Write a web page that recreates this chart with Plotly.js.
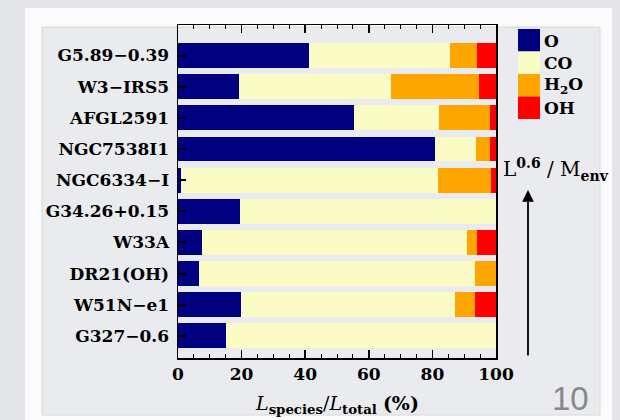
<!DOCTYPE html>
<html>
<head>
<meta charset="utf-8">
<script src="https://cdn.plot.ly/plotly-3.0.1.min.js"></script>
<style>html,body{margin:0;padding:0;background:#e3e5e9;}#chart{width:620px;height:420px;}</style>
</head>
<body>
<div id="chart"></div>
<script>
// ---- data ----
const sources = ["G5.89\u22120.39", "W3\u2212IRS5", "AFGL2591", "NGC7538I1", "NGC6334\u2212I",
                 "G34.26+0.15", "W33A", "DR21(OH)", "W51N\u2212e1", "G327\u22120.6"];
const species = ["O", "CO", "H<sub>2</sub>O", "OH"];
const valO   = [41.3, 19.1, 55.2, 80.8, 0.9, 19.4, 7.4, 6.6, 19.8, 15.0];
const valCO  = [44.2, 47.9, 26.9, 12.9, 80.9, 80.6, 83.5, 86.8, 67.3, 85.0];
const valH2O = [8.5, 27.6, 16.0, 4.4, 16.6, 0.0, 3.1, 6.6, 6.3, 0.0];
const valOH  = [6.0, 5.4, 1.9, 1.9, 1.6, 0.0, 6.0, 0.0, 6.6, 0.0];
const xTicks = [0, 20, 40, 60, 80, 100];

// ---- styles ----
const colors = ["#000080", "#fbfbc6", "#ffa500", "#ff0000"];
const serif = "DejaVu Serif, serif";
const W = 620, H = 420;
const M = {l: 178, r: 124, t: 25, b: 62};
const pw = W - M.l - M.r, ph = H - M.t - M.b;
const px = x => (x - M.l) / pw;
const py = y => (H - M.b - y) / ph;

const series = [valO, valCO, valH2O, valOH];
const traces = series.map((vals, i) => ({
  type: "bar", orientation: "h",
  y: sources, x: vals, name: species[i],
  marker: {color: colors[i], line: {width: 0}},
  showlegend: false, hoverinfo: "skip"
}));

const shapes = [
  {type: "rect", xref: "paper", yref: "paper", layer: "below",
   x0: px(25), x1: px(612), y0: py(421), y1: py(8), fillcolor: "#fbfbfb", line: {width: 0}},
  {type: "rect", xref: "paper", yref: "paper", layer: "below",
   x0: px(42), x1: px(600), y0: py(415), y1: py(27), fillcolor: "#e9ebee",
   line: {width: 1, color: "#d6d8dc"}}
];
const annotations = [];
// legend swatches
species.forEach((s, i) => {
  const top = 29 + i * 22.5;
  shapes.push({type: "rect", xref: "paper", yref: "paper",
    x0: px(518), x1: px(540), y0: py(top + 22.5), y1: py(top),
    fillcolor: colors[i], line: {width: 0}});
  annotations.push({xref: "paper", yref: "paper", x: px(542), y: py(top + 11.5),
    xanchor: "left", yanchor: "middle", showarrow: false, text: s,
    font: {family: serif, size: 17, color: "#000", weight: "bold"}});
});
// L^0.6/M_env label and arrow
annotations.push({xref: "paper", yref: "paper", x: px(501), y: py(169),
  xanchor: "left", yanchor: "middle", showarrow: false,
  text: "L<sup><b>0.6</b></sup> / M<sub><b>env</b></sub>",
  font: {family: serif, size: 20, color: "#000"}});
annotations.push({xref: "paper", yref: "paper", x: px(528), y: py(190),
  ax: px(528), ay: py(357), axref: "paper", ayref: "paper",
  showarrow: true, arrowhead: 2, arrowsize: 1.3, arrowwidth: 1.8, arrowcolor: "#000", text: ""});
// x axis title
annotations.push({xref: "paper", yref: "paper", x: 0.5, y: py(404),
  xanchor: "center", yanchor: "middle", showarrow: false,
  text: "<i>L</i><sub><b>species</b></sub>/<i>L</i><sub><b>total</b></sub> <b>(%)</b>",
  font: {family: serif, size: 19, color: "#000"}});
// slide number
annotations.push({xref: "paper", yref: "paper", x: px(570), y: py(398),
  xanchor: "center", yanchor: "middle", showarrow: false, text: "10",
  font: {family: "Liberation Sans, Arial, sans-serif", size: 33, color: "#888888"}});

const layout = {
  width: W, height: H, margin: M,
  paper_bgcolor: "#e3e5e9", plot_bgcolor: "rgba(0,0,0,0)",
  barmode: "stack", bargap: 0.2,
  xaxis: {range: [0, 100], tickvals: xTicks, ticktext: xTicks.map(String),
    ticks: "inside", ticklen: 8, tickwidth: 1.5, tickcolor: "#000",
    minor: {dtick: 5, ticks: "inside", ticklen: 4, tickwidth: 1, tickcolor: "#000"},
    showline: true, linecolor: "#000", linewidth: 1.5, mirror: "ticks",
    showgrid: false, zeroline: false, fixedrange: true,
    tickfont: {family: serif, size: 17, color: "#000", weight: "bold"}},
  yaxis: {type: "category", categoryorder: "array", categoryarray: sources,
    range: [9.71, -0.98],
    ticks: "inside", ticklen: 8, tickwidth: 2, tickcolor: "#000",
    showline: true, linecolor: "#000", linewidth: 1.5, mirror: true,
    showgrid: false, zeroline: false, ticklabelstandoff: 4,
    tickfont: {family: serif, size: 17, color: "#000", weight: "bold"}},
  shapes: shapes, annotations: annotations
};
Plotly.newPlot("chart", traces, layout, {displayModeBar: false, staticPlot: true});
</script>
</body>
</html>
